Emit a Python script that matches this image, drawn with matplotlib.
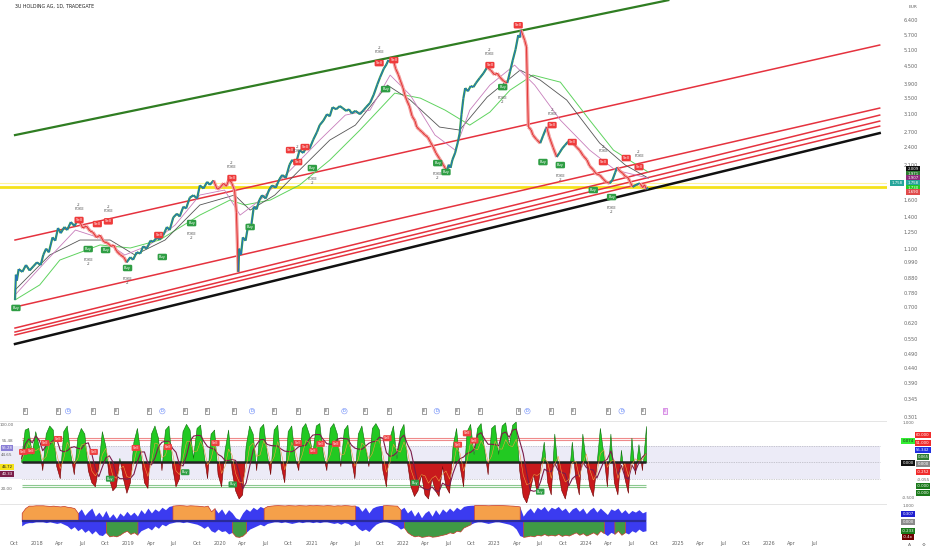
import numpy as np
import pandas as pd
import matplotlib
matplotlib.use("Agg")
import matplotlib.pyplot as plt
import matplotlib.dates as mdates
from matplotlib.collections import LineCollection
from matplotlib.ticker import FixedLocator, NullLocator, NullFormatter
from datetime import datetime

W, H = 932, 550
BASE = mdates.date2num(datetime(2018, 1, 1))


def yr(v):
    """decimal year -> matplotlib date number"""
    return BASE + (np.asarray(v, dtype=float) - 2018) * 365.25


# ---------------- data ----------------
title = "3U HOLDING AG, 1D, TRADEGATE"

price_yr = [2017.76, 2017.77, 2017.78, 2017.80, 2017.84, 2017.88, 2017.92, 2017.96, 2018.00, 2018.04,
            2018.07, 2018.10, 2018.13, 2018.17, 2018.20, 2018.23, 2018.26, 2018.30, 2018.33, 2018.37,
            2018.41, 2018.45, 2018.48, 2018.50, 2018.54, 2018.58, 2018.61, 2018.65, 2018.69, 2018.73,
            2018.77, 2018.81, 2018.84, 2018.87, 2018.91, 2018.95, 2018.98, 2019.02, 2019.05, 2019.09,
            2019.13, 2019.16, 2019.20, 2019.24, 2019.27, 2019.31, 2019.34, 2019.38, 2019.42, 2019.45,
            2019.49, 2019.53, 2019.56, 2019.60, 2019.63, 2019.67, 2019.71, 2019.75, 2019.78, 2019.82,
            2019.86, 2019.89, 2019.93, 2019.97, 2020.00, 2020.04, 2020.07, 2020.10, 2020.13, 2020.16,
            2020.18, 2020.20, 2020.21, 2020.23, 2020.25, 2020.28, 2020.31, 2020.34, 2020.37, 2020.40,
            2020.43, 2020.46, 2020.50, 2020.54, 2020.57, 2020.61, 2020.65, 2020.68, 2020.72, 2020.76,
            2020.79, 2020.83, 2020.87, 2020.91, 2020.95, 2020.98, 2021.02, 2021.06, 2021.09, 2021.13,
            2021.17, 2021.20, 2021.23, 2021.27, 2021.31, 2021.34, 2021.38, 2021.41, 2021.44, 2021.48,
            2021.53, 2021.57, 2021.60, 2021.64, 2021.68, 2021.72, 2021.75, 2021.79, 2021.82, 2021.84,
            2021.87, 2021.89, 2021.92, 2021.95, 2021.97, 2022.00, 2022.02, 2022.04, 2022.07, 2022.10,
            2022.13, 2022.15, 2022.18, 2022.21, 2022.24, 2022.27, 2022.30, 2022.33, 2022.36, 2022.40,
            2022.44, 2022.46, 2022.48, 2022.50, 2022.52, 2022.54, 2022.57, 2022.60, 2022.62, 2022.64,
            2022.66, 2022.68, 2022.71, 2022.74, 2022.77, 2022.80, 2022.84, 2022.88, 2022.92, 2022.96,
            2023.00, 2023.03, 2023.06, 2023.10, 2023.14, 2023.17, 2023.20, 2023.23, 2023.26, 2023.28,
            2023.29, 2023.31, 2023.33, 2023.35, 2023.37, 2023.40, 2023.42, 2023.46, 2023.50, 2023.53,
            2023.57, 2023.60, 2023.64, 2023.68, 2023.71, 2023.74, 2023.77, 2023.80, 2023.83, 2023.86,
            2023.90, 2023.93, 2023.97, 2024.01, 2024.04, 2024.08, 2024.11, 2024.15, 2024.19, 2024.22,
            2024.26, 2024.29, 2024.32, 2024.34, 2024.37, 2024.40, 2024.43, 2024.46, 2024.49, 2024.51,
            2024.55, 2024.59, 2024.62, 2024.64, 2024.66, 2024.68]
price = [0.741, 0.90, 0.86, 0.94, 0.92, 0.97, 0.93, 0.96, 0.99, 0.97,
         1.05, 1.10, 1.07, 1.20, 1.17, 1.29, 1.24, 1.30, 1.27, 1.35,
         1.31, 1.38, 1.33, 1.29, 1.31, 1.26, 1.25, 1.20, 1.22, 1.16,
         1.15, 1.12, 1.13, 1.08, 1.05, 1.03, 0.99, 1.03, 1.01, 1.07,
         1.06, 1.12, 1.10, 1.17, 1.16, 1.20, 1.18, 1.22, 1.30, 1.27,
         1.40, 1.44, 1.41, 1.52, 1.50, 1.63, 1.66, 1.62, 1.79, 1.75,
         1.84, 1.80, 1.86, 1.74, 1.76, 1.82, 1.78, 1.88, 1.82, 1.72,
         1.45, 0.92, 1.10, 1.05, 1.20, 1.17, 1.33, 1.30, 1.52, 1.49,
         1.60, 1.66, 1.62, 1.74, 1.79, 1.76, 1.88, 1.94, 1.90, 2.10,
         2.18, 2.12, 2.35, 2.30, 2.42, 2.38, 2.55, 2.70, 2.85, 2.95,
         3.10, 3.05, 3.27, 3.22, 3.30, 3.25, 3.18, 3.22, 3.12, 3.18,
         3.10, 3.20, 3.28, 3.38, 3.60, 3.90, 4.12, 4.40, 4.55, 4.70,
         4.62, 4.77, 4.40, 4.20, 4.03, 3.80, 3.60, 3.46, 3.30, 3.05,
         2.95, 2.81, 2.75, 2.70, 2.64, 2.60, 2.50, 2.41, 2.30, 2.20,
         2.10, 2.05, 2.00, 2.10, 2.05, 2.18, 2.30, 2.50, 2.68, 3.10,
         3.50, 3.79, 3.70, 3.85, 3.82, 3.95, 4.10, 4.25, 4.45, 4.35,
         4.20, 4.25, 4.12, 4.00, 3.94, 4.30, 4.70, 5.10, 5.70, 5.60,
         5.92, 5.70, 5.48, 5.20, 2.81, 2.75, 2.64, 2.55, 2.48, 2.62,
         2.81, 2.60, 2.40, 2.23, 2.30, 2.38, 2.44, 2.50, 2.54, 2.48,
         2.40, 2.35, 2.25, 2.18, 2.08, 2.02, 1.96, 1.94, 1.88, 1.84,
         1.82, 1.87, 1.98, 2.06, 2.00, 1.97, 1.92, 1.90, 1.82, 1.77,
         1.80, 1.82, 1.76, 1.80, 1.74, 1.76]
# stretches where the price line is painted in the bearish colour
down_spans = [(2018.45, 2018.98), (2019.93, 2020.20), (2021.89, 2022.48), (2022.92, 2023.14),
              (2023.29, 2023.50), (2023.57, 2023.68), (2023.83, 2024.26), (2024.34, 2024.51),
              (2024.59, 2024.66)]

ma_long_yr = [2017.76, 2018.03, 2018.25, 2018.69, 2019.02, 2019.34, 2019.78, 2020.11, 2020.27,
              2020.55, 2020.87, 2021.20, 2021.53, 2021.91, 2022.19, 2022.46, 2022.73, 2022.95,
              2023.17, 2023.42, 2023.72, 2024.04, 2024.30, 2024.68]
ma_long = [0.741, 0.832, 1.008, 1.132, 1.106, 1.176, 1.425, 1.600, 1.540,
           1.600, 1.796, 2.177, 2.743, 3.646, 3.508, 3.199, 2.850, 3.150,
           3.731, 4.189, 3.968, 2.962, 2.351, 1.985]

ma_mid_yr = [2017.76, 2018.14, 2018.47, 2018.80, 2019.07, 2019.40, 2019.78, 2020.16, 2020.33,
             2020.60, 2020.87, 2021.20, 2021.48, 2021.83, 2022.08, 2022.40, 2022.62, 2022.92,
             2023.28, 2023.50, 2023.79, 2024.15, 2024.43, 2024.68]
ma_mid = [0.800, 1.048, 1.176, 1.176, 1.048, 1.176, 1.540, 1.663, 1.481,
          1.663, 2.016, 2.539, 2.850, 3.878, 3.456, 2.807, 2.743, 3.536,
          4.353, 4.031, 3.456, 2.481, 2.095, 1.895]

ma_fast_yr = [2017.76, 2018.09, 2018.42, 2018.69, 2018.96, 2019.23, 2019.51, 2019.78, 2020.05,
              2020.22, 2020.44, 2020.77, 2021.09, 2021.37, 2021.64, 2021.86, 2022.08, 2022.35,
              2022.57, 2022.73, 2022.95, 2023.22, 2023.44, 2023.72, 2024.04, 2024.32, 2024.68]
ma_fast = [0.770, 0.993, 1.270, 1.194, 1.048, 1.132, 1.320, 1.663, 1.728,
           1.425, 1.600, 2.016, 2.539, 3.078, 3.199, 4.189, 3.590, 2.639,
           2.351, 3.199, 3.878, 4.524, 3.878, 2.962, 2.351, 2.016, 1.895]

# trend channel lines: (start year, start price, end year, end price)
green_line = (2017.76, 2.639, 2024.90, 7.46)
red_lines = [(2017.76, 1.176, 2027.21, 5.28),
             (2017.76, 0.702, 2027.21, 3.249),
             (2017.76, 0.597, 2027.21, 3.078),
             (2017.76, 0.579, 2027.21, 2.939),
             (2017.76, 0.566, 2027.21, 2.828)]
black_line = (2017.76, 0.528, 2027.21, 2.680)
support_level = 1.768
support_level2 = 1.82

sell_yr = [2018.46, 2018.66, 2018.78, 2019.33, 2020.13, 2020.77, 2020.85, 2020.93, 2021.74,
           2021.90, 2022.95, 2023.26, 2023.63, 2023.85, 2024.19, 2024.44, 2024.58]
sell_px = [1.372, 1.330, 1.358, 1.222, 1.895, 2.351, 2.144, 2.406, 4.594,
           4.701, 4.524, 6.150, 2.850, 2.501, 2.144, 2.211, 2.063]
buy_yr = [2017.77, 2018.56, 2018.75, 2018.99, 2019.37, 2019.69, 2020.33, 2021.01, 2021.81,
          2022.38, 2022.47, 2023.09, 2023.53, 2023.72, 2024.08, 2024.28]
buy_px = [0.697, 1.097, 1.089, 0.948, 1.032, 1.340, 1.300, 2.047, 3.760,
          2.127, 1.985, 3.819, 2.144, 2.095, 1.728, 1.637]

event_yr = [2017.87, 2018.23, 2018.34, 2018.61, 2018.86, 2019.22, 2019.37, 2019.62, 2019.86,
            2020.15, 2020.35, 2020.59, 2020.85, 2021.16, 2021.36, 2021.58, 2021.85, 2022.23,
            2022.37, 2022.59, 2022.84, 2023.26, 2023.36, 2023.62, 2023.86, 2024.24, 2024.39,
            2024.62, 2024.86]
event_kind = ["E", "E", "D", "E", "E", "E", "D", "E", "E",
              "E", "D", "E", "E", "E", "D", "E", "E", "E",
              "D", "E", "E", "E", "D", "E", "E", "E", "D",
              "E", "F"]

price_ticks = [6.4, 5.7, 5.1, 4.5, 3.9, 3.5, 3.1, 2.7, 2.4, 2.1, 1.6, 1.4, 1.25, 1.1,
               0.99, 0.88, 0.78, 0.70, 0.62, 0.55, 0.49, 0.44, 0.39, 0.345, 0.301]

# oscillator, one value every 14 days from 2017-11-01
osc_start = datetime(2017, 11, 1)
osc = [55, 90, 92, 60, 88, 70,
       40, 85, 95, 90, 45, 30, 88, 95, 60, 35, 80, 92, 85, 40, 25, 20, 45, 88, 70, 30, 15, 20, 55, 30, 12, 25,
       75, 92, 60, 25, 18, 85, 95, 80, 40, 90, 95, 45, 20, 30, 88, 97, 90, 55, 92, 96, 60, 30, 85, 90, 35, 20,
       65, 90, 40, 15, 5, 10, 70, 95, 85, 40, 92, 97, 60, 35, 90, 96, 45, 25, 88, 95, 55, 40, 92, 98, 85, 60,
       95, 98, 60, 40, 92, 98, 85, 45, 90, 96, 55, 30, 85, 95, 70, 45, 92, 98, 90, 40, 20, 80, 95, 55, 88, 97,
       50, 20, 8, 15, 35, 10, 5, 30, 15, 8, 45, 20, 12, 70, 92, 45, 20, 88, 97, 60, 92, 98, 65, 35, 92, 96,
       60, 95, 99, 70, 96, 100, 40, 8, 0, 15, 35, 12, 45, 75, 25, 10, 85, 40, 15, 5, 25, 75, 30, 10, 85, 50,
       20, 8, 45, 92, 60, 20, 85, 25, 10, 65, 30, 12, 80, 35, 72, 40, 95]
osc_sell_yr = [2017.85, 2017.93, 2018.09, 2018.23, 2018.62, 2019.08, 2019.43, 2019.95, 2020.85,
               2021.02, 2021.10, 2021.27, 2021.83, 2022.60, 2022.70, 2022.78]
osc_sell_val = [63, 64, 74, 79, 63, 68, 69, 74, 74, 64, 73, 73, 80, 72, 86, 77]
osc_buy_yr = [2018.80, 2019.62, 2020.14, 2022.13, 2023.50]
osc_buy_val = [30, 38, 23, 25, 14]

# trend-state histogram, one value every 14 days from 2017-11-01
trend_start = datetime(2017, 11, 1)
trend_up = [0.5, 0.8, 0.95, 0.95, 0.97, 0.97,
            0.97, 0.95, 0.93, 0.95, 0.92, 0.9, 0.93, 0.88, 0.85, 0.8, 0.5, 0.75, 0.35,
            0.6, 0.8, 0.3, 0.55, 0.25, 0.65, 0.2, 0.45, 0.15, 0.5, 0.3, 0.6, 0.35,
            0.55, 0.3, 0.7, 0.45, 0.8, 0.5, 0.75, 0.6, 0.85, 0.7, 0.9, 0.95, 0.97,
            0.98, 0.97, 0.95, 0.97, 0.96, 0.95, 0.93, 0.9, 0.95, 0.6, 0.8, 0.5, 0.75,
            0.4, 0.7, 0.5, 0.2, 0.1, 0.5, 0.75, 0.6, 0.85, 0.7, 0.9, 0.8, 0.92,
            0.95, 0.97, 0.98, 0.97, 0.96, 0.98, 0.97, 0.96, 0.98, 0.97, 0.96, 0.98, 0.97,
            0.98, 0.97, 0.96, 0.98, 0.97, 0.95, 0.97, 0.96, 0.98, 0.97, 0.95, 0.96, 0.9,
            0.6, 0.85, 0.5, 0.8, 0.9, 0.95, 0.97, 0.98, 0.97, 0.96, 0.95, 0.7, 0.85,
            0.5, 0.7, 0.3, 0.6, 0.2, 0.5, 0.65, 0.3, 0.7, 0.4, 0.75, 0.55, 0.8,
            0.6, 0.85, 0.7, 0.9, 0.95, 0.97, 0.98, 0.99, 0.99, 0.98, 0.97, 0.98, 0.99,
            0.99, 0.98, 0.97, 0.96, 0.95, 0.93, 0.9, 0.3, 0.6, 0.8, 0.5, 0.85, 0.7,
            0.9, 0.6, 0.85, 0.75, 0.9, 0.65, 0.8, 0.5, 0.75, 0.85, 0.6, 0.8, 0.45,
            0.7, 0.85, 0.55, 0.8, 0.6, 0.4, 0.75, 0.65, 0.8, 0.5, 0.7, 0.45, 0.65,
            0.55, 0.7, 0.5, 0.6]
trend_dn = [-0.3, -0.15, -0.1, -0.1, -0.05, -0.05,
            -0.05, -0.1, -0.05, -0.1, -0.15, -0.1, -0.2, -0.3, -0.5, -0.35, -0.6, -0.45, -0.7,
            -0.55, -0.8, -0.6, -0.85, -0.9, -0.7, -0.95, -0.9, -0.95, -0.85, -0.7, -0.6, -0.8,
            -0.7, -0.85, -0.6, -0.5, -0.4, -0.55, -0.3, -0.45, -0.2, -0.3, -0.15, -0.1, -0.05,
            -0.05, -0.1, -0.05, -0.1, -0.15, -0.2, -0.3, -0.45, -0.3, -0.6, -0.7, -0.5, -0.65,
            -0.6, -0.8, -0.7, -0.95, -0.98, -0.9, -0.7, -0.5, -0.4, -0.3, -0.2, -0.3, -0.15,
            -0.1, -0.05, -0.05, -0.1, -0.05, -0.1, -0.15, -0.1, -0.05, -0.1, -0.05, -0.05, -0.1,
            -0.05, -0.1, -0.05, -0.05, -0.1, -0.15, -0.1, -0.2, -0.1, -0.15, -0.3, -0.2, -0.45,
            -0.6, -0.5, -0.65, -0.4, -0.2, -0.1, -0.05, -0.05, -0.1, -0.2, -0.3, -0.5, -0.4,
            -0.7, -0.85, -0.95, -0.9, -0.98, -0.95, -0.9, -0.97, -0.95, -0.9, -0.85, -0.8, -0.7,
            -0.75, -0.6, -0.65, -0.4, -0.3, -0.2, -0.1, -0.05, -0.05, -0.1, -0.15, -0.1, -0.05,
            -0.05, -0.1, -0.15, -0.2, -0.3, -0.5, -0.9, -0.98, -0.95, -0.9, -0.95, -0.85, -0.9,
            -0.8, -0.9, -0.85, -0.9, -0.8, -0.92, -0.85, -0.9, -0.8, -0.7, -0.85, -0.75, -0.9,
            -0.8, -0.7, -0.85, -0.6, -0.75, -0.9, -0.7, -0.8, -0.6, -0.85, -0.7, -0.8, -0.6,
            -0.7, -0.5, -0.65, -0.6]
orange_spans = [(2017.8, 2018.45), (2019.45, 2019.95), (2020.45, 2021.5), (2021.75, 2022.0),
                (2022.75, 2023.3)]
green_spans = [(2018.75, 2019.1), (2020.1, 2020.3), (2022.0, 2022.75), (2023.3, 2024.2),
               (2024.3, 2024.45)]

# ---------------- figure ----------------
fig = plt.figure(figsize=(W / 100, H / 100), dpi=100)
fig.patch.set_facecolor("white")
PW = 887 / W

ax = fig.add_axes([0, 1 - 420 / H, PW, 420 / H])
ao = fig.add_axes([0, 1 - 503 / H, PW, 82 / H])
ab = fig.add_axes([0, 1 - 538 / H, PW, 34 / H])

x0, x1 = yr(2017.596), yr(2027.29)
for a in (ax, ao, ab):
    a.set_xlim(x0, x1)
    for s in a.spines.values():
        s.set_visible(False)
    a.tick_params(length=0)

# ---- price panel ----
ax.set_yscale("log")
ax.set_ylim(0.294, 7.47)

a_, p_, b_, q_ = green_line
ax.plot(yr([a_, b_]), [p_, q_], color="#2f7d22", lw=1.6, zorder=2)
for a_, p_, b_, q_ in red_lines:
    ax.plot(yr([a_, b_]), [p_, q_], color="#e5323e", lw=1.1, zorder=2)
a_, p_, b_, q_ = black_line
ax.plot(yr([a_, b_]), [p_, q_], color="#111111", lw=1.8, zorder=2)
ax.axhline(support_level2, color="#fff59d", lw=0.8, zorder=1)
ax.axhline(support_level, color="#f5e21a", lw=2.0, zorder=1)

ax.plot(yr(ma_long_yr), ma_long, color="#5fd35f", lw=0.7, zorder=3)
ax.plot(yr(ma_mid_yr), ma_mid, color="#555555", lw=0.6, zorder=3)
ax.plot(yr(ma_fast_yr), ma_fast, color="#c77dbb", lw=0.6, zorder=3)

px = yr(price_yr)
pv = np.array(price)
py = np.array(price_yr)
segs = [[(px[i], pv[i]), (px[i + 1], pv[i + 1])] for i in range(len(pv) - 1)]
mid = (py[:-1] + py[1:]) / 2
bear = [any(s0 <= m <= s1 for s0, s1 in down_spans) for m in mid]
ax.add_collection(LineCollection(segs, colors=["#f39a9a" if b else "#38a447" for b in bear],
                                 linewidths=[2.4 if b else 1.6 for b in bear], zorder=4))
ax.add_collection(LineCollection(segs, colors=["#e02a2a" if b else "#2166d9" for b in bear],
                                 linewidths=0.6, zorder=5))

for i, (t, p) in enumerate(zip(sell_yr, sell_px)):
    ax.text(yr(t), p, "Sell", fontsize=2.6, color="white", ha="center", va="center", zorder=7,
            bbox=dict(boxstyle="round,pad=0.35", fc="#ef3b3b", ec="none"))
    if i % 2 == 0:
        ax.text(yr(t), p * 1.07, "-2\nPOKE", fontsize=2.6, color="#555555", ha="center",
                va="bottom", linespacing=1.0, zorder=7)
for i, (t, p) in enumerate(zip(buy_yr, buy_px)):
    ax.text(yr(t), p, "Buy", fontsize=2.6, color="white", ha="center", va="center", zorder=7,
            bbox=dict(boxstyle="round,pad=0.35", fc="#2f9e44", ec="none"))
    if i % 2 == 1:
        ax.text(yr(t), p / 1.07, "POKE\n-2", fontsize=2.6, color="#555555", ha="center",
                va="top", linespacing=1.0, zorder=7)

trans = ax.get_xaxis_transform()
for t, k in zip(event_yr, event_kind):
    if k == "D":
        ax.text(yr(t), 0.021, "D", transform=trans, fontsize=2.6, color="#2962ff", ha="center",
                va="center", bbox=dict(boxstyle="circle,pad=0.2", fc="white", ec="#7b93f5", lw=0.4))
    elif k == "F":
        ax.text(yr(t), 0.021, "E", transform=trans, fontsize=2.6, color="#c04bd6", ha="center",
                va="center", bbox=dict(boxstyle="square,pad=0.25", fc="#f6e2fb", ec="#c04bd6", lw=0.4))
    else:
        ax.text(yr(t), 0.021, "E", transform=trans, fontsize=2.6, color="#333333", ha="center",
                va="center", bbox=dict(boxstyle="square,pad=0.25", fc="white", ec="#555555", lw=0.4))

ax.yaxis.tick_right()
ax.yaxis.set_major_locator(FixedLocator(price_ticks))
ax.yaxis.set_minor_locator(NullLocator())
ax.yaxis.set_minor_formatter(NullFormatter())
ax.set_yticklabels(["%.3f" % v for v in price_ticks])
ax.tick_params(axis="y", labelsize=3.6, labelcolor="#666666", pad=12)
ax.set_xticks([])
ax.text(0.017, 0.984, title, transform=ax.transAxes, fontsize=3.4, color="#222222", va="center")

# ---- oscillator panel ----
od = mdates.date2num(osc_start) + 14 * np.arange(len(osc))
ov = np.array(osc, dtype=float)
ao.set_ylim(0, 101.2)
end_x = yr(2027.21)
ao.axhspan(30, 70, xmin=0, xmax=(end_x - x0) / (x1 - x0), color="#ecebf7", lw=0, zorder=0)
for lvl in (70, 50, 30):
    ao.hlines(lvl, od[0], end_x, colors="#a0a0a8", lw=0.5, linestyles=(0, (1, 1.5)), zorder=1)
ao.hlines([78, 80], od[0], od[-1], colors="#ef8a8a", lw=0.8, zorder=1)
ao.hlines([20, 22], od[0], od[-1], colors="#8cc98f", lw=0.8, zorder=1)
ao.fill_between(od, 50, ov, where=ov >= 50, interpolate=True, color="#22c922",
                edgecolor="#0b6e0b", lw=0.4, zorder=2)
ao.fill_between(od, 50, ov, where=ov <= 50, interpolate=True, color="#c8191c",
                edgecolor="#6d0000", lw=0.4, zorder=2)
ao.hlines(50, od[0], od[-1], colors="#222222", lw=1.8, zorder=3)
sig = pd.Series(ov).rolling(4, min_periods=1).mean()
ao.plot(od, sig, color="#7b1d4a", lw=0.8, zorder=4)
ao.plot(od, pd.Series(ov).rolling(2, min_periods=1).mean() * 0.6 + 20, color="#f0a040",
        lw=0.4, zorder=4)
for t, v in zip(osc_sell_yr, osc_sell_val):
    ao.text(yr(t), v, "Sell", fontsize=2.4, color="white", ha="center", va="center", zorder=6,
            bbox=dict(boxstyle="round,pad=0.3", fc="#ef4040", ec="none"))
for t, v in zip(osc_buy_yr, osc_buy_val):
    ao.text(yr(t), v, "Buy", fontsize=2.4, color="white", ha="center", va="center", zorder=6,
            bbox=dict(boxstyle="round,pad=0.3", fc="#2f9e44", ec="none"))
ao.axhline(101.2, color="#e0e0e0", lw=0.6)
ao.set_xticks([])
ao.set_yticks([])

# ---- trend panel ----
bd = mdates.date2num(trend_start) + 14 * np.arange(len(trend_up))
bu = np.array(trend_up)
bn = np.array(trend_dn)
ab.set_ylim(-1.05, 1.05)
ab.fill_between(bd, 0, bu, color="#3b3bf0", lw=0, zorder=2)
ab.fill_between(bd, 0, bn, color="#3b3bf0", lw=0, zorder=2)
for s0, s1 in orange_spans:
    m = (bd >= yr(s0)) & (bd <= yr(s1))
    ab.fill_between(bd, 0, bu, where=m, color="#f5a04a", edgecolor="#d84a2a", lw=0.5, zorder=3)
for s0, s1 in green_spans:
    m = (bd >= yr(s0)) & (bd <= yr(s1))
    ab.fill_between(bd, 0, bn, where=m, color="#3f9a45", edgecolor="#d84a2a", lw=0.5, zorder=3)
ab.hlines(0, bd[0], bd[-1], colors="#2a2a9a", lw=1.6, zorder=4)
ab.axhline(1.05, color="#e0e0e0", lw=0.6)
ab.set_yticks([])

ticks = pd.date_range("2017-10-01", "2026-07-01", freq="QS-JAN")
ab.set_xticks(mdates.date2num(ticks.to_pydatetime()))
ab.set_xticklabels([str(t.year) if t.month == 1 else t.strftime("%b") for t in ticks])
ab.tick_params(axis="x", labelsize=3.6, labelcolor="#666666", pad=2.5)


# ---- value labels around the scales ----
def tag(x, y, s, fc, tc="white", fs=2.8):
    fig.text(x / W, 1 - y / H, s, fontsize=fs, color=tc, ha="center", va="center",
             bbox=dict(boxstyle="square,pad=0.25", fc=fc, ec="none"))


def note(x, y, s, fs=3.2, c="#666666"):
    fig.text(x / W, 1 - y / H, s, fontsize=fs, color=c, ha="center", va="center")


note(913, 7, "EUR")
tag(913, 169, "2.009", "#111111")
tag(913, 174, "1.971", "#2e7d32")
tag(913, 178, "1.907", "#8e2a7a")
tag(913, 183, "1.758", "#26a69a")
tag(897, 183, "1.758", "#26a69a")
tag(913, 188, "1.730", "#22c922")
tag(913, 192, "1.690", "#e04b4b")

note(908, 423, "1.000", fs=3.0)
tag(908, 441, "0.074", "#33ee33", tc="#222222")
tag(908, 463, "0.000", "#111111")
tag(923, 435, "60.000", "#f02c2c")
tag(923, 443, "51.000", "#f02c2c")
tag(923, 450, "55.342", "#2030e0")
tag(923, 457, "0.065", "#2e7d32")
tag(923, 464, "0.000", "#8a8a8a")
tag(923, 472, "-0.252", "#f02c2c")
note(923, 480, "-0.055", fs=3.0)
tag(923, 486, "-0.000", "#1b7a1b")
tag(923, 493, "-0.000", "#1b7a1b")
note(908, 498, "-0.500", fs=3.0)
note(908, 506, "1.000", fs=3.0)
tag(908, 514, "0.307", "#2020d0")
tag(908, 522, "0.000", "#8a8a8a")
tag(908, 531, "-0.233", "#1b7a1b")
tag(908, 537, "-0.4x", "#6d0000")
note(909, 545, "A", fs=3.2)
note(924, 545, "\u2699", fs=3.2)

note(7, 425, "100.00", fs=3.0)
note(7, 441, "55.48", fs=3.0)
tag(7, 448, "55.28", "#8a7fd6")
note(7, 455, "44.65", fs=3.0)
tag(7, 467, "46.72", "#f5e21a", tc="#222222")
tag(7, 474, "40.33", "#7b1d4a")
note(7, 489, "20.00", fs=3.0)

fig.savefig("out.png", dpi=100, facecolor="white")
